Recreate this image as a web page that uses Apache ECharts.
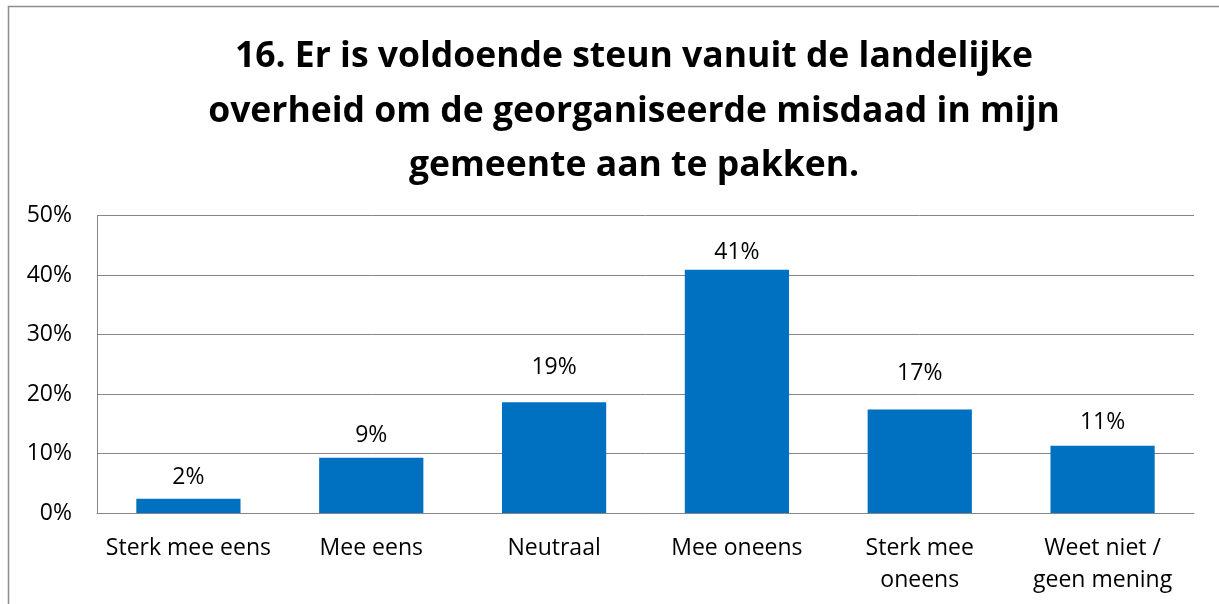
<!DOCTYPE html>
<html>
<head>
<meta charset="utf-8">
<script src="https://cdn.jsdelivr.net/npm/echarts@6/dist/echarts.min.js"></script>
<style>
    html, body { margin: 0; padding: 0; background: #fff; }
    #main { width: 1219px; height: 604px; }
</style>
</head>
<body>
<div id="main"></div>
<script>
// chart data
var categories = ['Sterk mee eens', 'Mee eens', 'Neutraal', 'Mee oneens', 'Sterk mee\noneens', 'Weet niet /\ngeen mening'];
var percentages = [2.4, 9.3, 18.6, 40.9, 17.4, 11.3];
var yTicks = [0, 10, 20, 30, 40, 50];

// extra lift of each value label (Excel pushes some above the gridlines)
var labelLift = [4, 5, 17, 0, 19, 6];

var titleText = '16. Er is voldoende steun vanuit de landelijke\noverheid om de georganiseerde misdaad in mijn\ngemeente aan te pakken.';

var myChart = echarts.init(document.getElementById('main'));

var barData = [];
for (var i = 0; i < percentages.length; i++) {
    barData.push({
        value: percentages[i],
        label: { offset: [0, -labelLift[i]] }
    });
}

var option = {
    animation: false,
    textStyle: {
        fontFamily: 'Open Sans'
    },
    title: {
        text: titleText,
        left: 629,
        top: 25,
        textAlign: 'center',
        textStyle: {
            fontFamily: 'Open Sans',
            fontWeight: 'bold',
            fontSize: 35.5,
            lineHeight: 54.5,
            color: '#000'
        }
    },
    graphic: [{
        type: 'rect',
        silent: true,
        shape: { x: 8.5, y: 6.5, width: 1400, height: 800 },
        style: { fill: 'none', stroke: '#8c8c8c', lineWidth: 1.5 }
    }],
    grid: {
        left: 97,
        right: 25,
        top: 215.5,
        bottom: 91
    },
    xAxis: {
        type: 'category',
        data: categories,
        axisLine: { lineStyle: { color: '#868686', width: 1 } },
        axisTick: { show: false },
        axisLabel: {
            color: '#000',
            fontSize: 23,
            lineHeight: 32,
            margin: 19,
            interval: 0
        }
    },
    yAxis: {
        type: 'value',
        min: yTicks[0],
        max: yTicks[yTicks.length - 1],
        interval: 10,
        axisLine: { show: true, lineStyle: { color: '#868686', width: 1 } },
        axisTick: { show: false },
        axisLabel: {
            color: '#000',
            fontSize: 23,
            margin: 25,
            formatter: '{value}%'
        },
        splitLine: { lineStyle: { color: '#868686', width: 1 } }
    },
    series: [{
        type: 'bar',
        data: barData,
        barCategoryGap: '43%',
        itemStyle: { color: '#0070C0' },
        label: {
            show: true,
            position: 'top',
            distance: 6,
            color: '#000',
            fontSize: 23,
            formatter: function (p) {
                return Math.round(p.value) + '%';
            }
        }
    }]
};

myChart.setOption(option);
</script>
</body>
</html>
